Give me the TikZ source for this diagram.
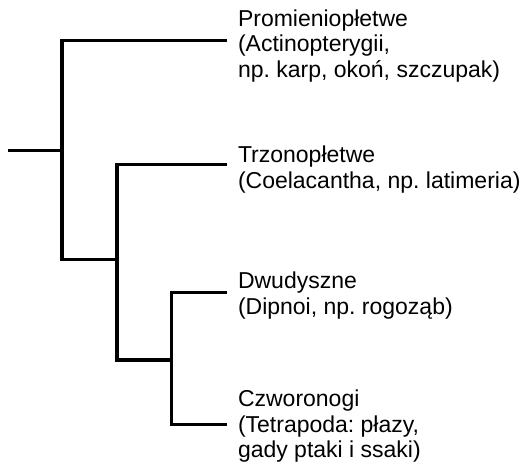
\documentclass[tikz,border=0pt]{standalone}
\usepackage{fontspec}
\setmainfont{Liberation Sans}
\frenchspacing
\begin{document}
\begin{tikzpicture}[x=1pt,y=-1pt,
  branch/.style={line width=3.2pt,line join=miter,line cap=butt,black},
  lbl/.style={anchor=base west,inner sep=0pt,outer sep=0pt,
    font=\fontsize{23}{25.5}\selectfont\frenchspacing}]
\useasboundingbox (0,0) rectangle (527,465);
% tree coordinates
\coordinate (r)  at (7.5,150.7);
\coordinate (a1) at (62,150.7);
\coordinate (a2) at (117,259.3);
\coordinate (a3) at (171.7,360);
\coordinate (l1) at (227,40.7);
\coordinate (l2) at (227,164.3);
\coordinate (l3) at (227,292.7);
\coordinate (l4) at (227,424.3);
% branches
\draw[branch] (r) -- (a1);
\draw[branch] (l1) -| (a1) |- (a2);
\draw[branch] (l2) -| (a2) |- (a3);
\draw[branch] (l3) -| (a3) |- (l4);
% labels
\node[lbl] (t1) at (238,26.5) {\begin{tabular}[t]{@{}l@{}}Promieniopłetwe\\(Actinopterygii,\\np. karp, okoń, szczupak)\end{tabular}};
\node[lbl] (t2) at (238,162.7) {\begin{tabular}[t]{@{}l@{}}Trzonopłetwe\\(Coelacantha, np. latimeria)\end{tabular}};
\node[lbl] (t3) at (238,288.5) {\begin{tabular}[t]{@{}l@{}}Dwudyszne\\(Dipnoi, np. rogoząb)\end{tabular}};
\node[lbl] (t4) at (238,406.7) {\begin{tabular}[t]{@{}l@{}}Czworonogi\\(Tetrapoda: płazy,\\gady ptaki i ssaki)\end{tabular}};
\end{tikzpicture}
\end{document}
